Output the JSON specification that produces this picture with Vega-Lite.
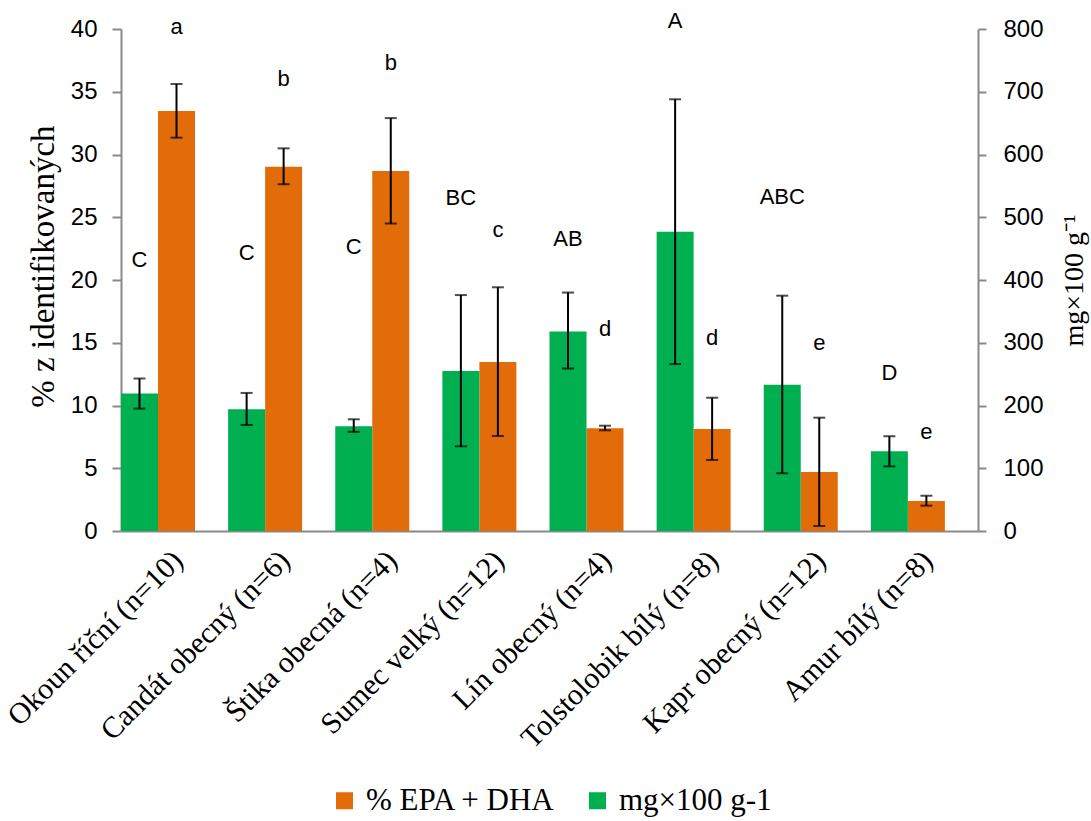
{
  "$schema": "https://vega.github.io/schema/vega-lite/v6.json",
  "width": 857,
  "height": 502,
  "autosize": {"type": "none"},
  "padding": {"left": 121, "top": 29, "right": 113, "bottom": 290},
  "config": {
    "view": {"stroke": null},
    "font": "Liberation Sans"
  },
  "data": {
    "values": [
      {"fish": "Okoun říční (n=10)", "series": "mg×100 g-1", "value": 219, "lo": 195, "hi": 243, "letter": "C", "ly": 432},
      {"fish": "Candát obecný (n=6)", "series": "mg×100 g-1", "value": 194, "lo": 169, "hi": 220, "letter": "C", "ly": 443},
      {"fish": "Štika obecná (n=4)", "series": "mg×100 g-1", "value": 167, "lo": 158, "hi": 178, "letter": "C", "ly": 453},
      {"fish": "Sumec velký (n=12)", "series": "mg×100 g-1", "value": 255, "lo": 135, "hi": 376, "letter": "BC", "ly": 530},
      {"fish": "Lín obecný (n=4)", "series": "mg×100 g-1", "value": 318, "lo": 259, "hi": 380, "letter": "AB", "ly": 466},
      {"fish": "Tolstolobik bílý (n=8)", "series": "mg×100 g-1", "value": 477, "lo": 266, "hi": 688, "letter": "A", "ly": 812},
      {"fish": "Kapr obecný (n=12)", "series": "mg×100 g-1", "value": 233, "lo": 92, "hi": 375, "letter": "ABC", "ly": 533},
      {"fish": "Amur bílý (n=8)", "series": "mg×100 g-1", "value": 127, "lo": 103, "hi": 151, "letter": "D", "ly": 252},
      {"fish": "Okoun říční (n=10)", "series": "% EPA + DHA", "value": 33.47, "lo": 31.34, "hi": 35.62, "letter": "a", "ly": 40.18},
      {"fish": "Candát obecný (n=6)", "series": "% EPA + DHA", "value": 29.03, "lo": 27.63, "hi": 30.49, "letter": "b", "ly": 36.0},
      {"fish": "Štika obecná (n=4)", "series": "% EPA + DHA", "value": 28.69, "lo": 24.5, "hi": 32.9, "letter": "b", "ly": 37.27},
      {"fish": "Sumec velký (n=12)", "series": "% EPA + DHA", "value": 13.47, "lo": 7.57, "hi": 19.42, "letter": "c", "ly": 23.98},
      {"fish": "Lín obecný (n=4)", "series": "% EPA + DHA", "value": 8.18, "lo": 8.02, "hi": 8.39, "letter": "d", "ly": 16.07},
      {"fish": "Tolstolobik bílý (n=8)", "series": "% EPA + DHA", "value": 8.13, "lo": 5.66, "hi": 10.62, "letter": "d", "ly": 15.36},
      {"fish": "Kapr obecný (n=12)", "series": "% EPA + DHA", "value": 4.70, "lo": 0.40, "hi": 9.03, "letter": "e", "ly": 14.96},
      {"fish": "Amur bílý (n=8)", "series": "% EPA + DHA", "value": 2.39, "lo": 2.02, "hi": 2.81, "letter": "e", "ly": 7.91}
    ]
  },
  "encoding": {
    "x": {
      "field": "fish", "type": "nominal", "sort": null,
      "scale": {"paddingInner": 0, "paddingOuter": 0},
      "axis": {
        "title": null, "labelAngle": -45, "labelAlign": "right", "labelLimit": 500,
        "labelFont": "Liberation Serif", "labelFontSize": 30, "labelColor": "black",
        "ticks": false, "labelPadding": 14, "labelOffset": -7,
        "domainColor": "#898989", "domainWidth": 2
      }
    },
    "xOffset": {
      "field": "series", "type": "nominal",
      "scale": {"domain": ["mg×100 g-1", "% EPA + DHA"], "range": [0, 74]}
    }
  },
  "layer": [
    {
      "transform": [{"filter": "datum.series === '% EPA + DHA'"}],
      "encoding": {
        "y": {
          "type": "quantitative",
          "scale": {"domain": [0, 40], "nice": false, "zero": true},
          "axis": {
            "orient": "left", "values": [0, 5, 10, 15, 20, 25, 30, 35, 40],
            "grid": false, "tickSize": 9, "tickColor": "#898989", "tickWidth": 2,
            "domainColor": "#898989", "domainWidth": 2,
            "labelFontSize": 24, "labelColor": "black", "labelPadding": 15,
            "title": "% z identifikovaných", "titleFont": "Liberation Serif",
            "titleFontSize": 33, "titleFontWeight": "normal", "titleColor": "black",
            "titleAngle": 270, "titleX": -78, "titleY": 237,
            "titleAlign": "center", "titleBaseline": "middle"
          }
        }
      },
      "layer": [
        {
          "mark": {"type": "bar"},
          "encoding": {
            "y": {"field": "value"},
            "color": {
              "field": "series", "type": "nominal",
              "scale": {"domain": ["% EPA + DHA", "mg×100 g-1"], "range": ["#E36C0A", "#00B050"]},
              "legend": {
                "orient": "none", "legendX": 208, "legendY": 756, "direction": "horizontal",
                "title": null, "symbolType": "square", "symbolSize": 289, "symbolStrokeWidth": 0,
                "labelFont": "Liberation Serif", "labelFontSize": 31, "labelColor": "black",
                "labelOffset": 6, "columnPadding": 26, "labelLimit": 400
              }
            }
          }
        },
        {
          "mark": {"type": "rule", "color": "black", "strokeWidth": 2},
          "encoding": {
            "y": {"field": "lo"},
            "y2": {"field": "hi"}
          }
        },
        {
          "mark": {"type": "tick", "color": "black", "thickness": 2, "size": 12},
          "encoding": {"y": {"field": "lo"}}
        },
        {
          "mark": {"type": "tick", "color": "black", "thickness": 2, "size": 12},
          "encoding": {"y": {"field": "hi"}}
        },
        {
          "mark": {"type": "text", "font": "Liberation Sans", "fontSize": 22, "color": "black", "baseline": "middle"},
          "encoding": {
            "y": {"field": "ly"},
            "text": {"field": "letter"}
          }
        }
      ]
    },
    {
      "transform": [{"filter": "datum.series === 'mg×100 g-1'"}],
      "encoding": {
        "y": {
          "type": "quantitative",
          "scale": {"domain": [0, 800], "nice": false, "zero": true},
          "axis": {
            "orient": "right", "values": [0, 100, 200, 300, 400, 500, 600, 700, 800],
            "grid": false, "tickSize": 8, "tickColor": "#898989", "tickWidth": 2,
            "domainColor": "#898989", "domainWidth": 2,
            "labelFontSize": 24, "labelColor": "black", "labelPadding": 17,
            "title": "mg×100 g⁻¹", "titleFont": "Liberation Serif",
            "titleFontSize": 28, "titleFontWeight": "normal", "titleColor": "black",
            "titleAngle": 270, "titleX": 96, "titleY": 251,
            "titleAlign": "center", "titleBaseline": "middle"
          }
        }
      },
      "layer": [
        {
          "mark": {"type": "bar"},
          "encoding": {
            "y": {"field": "value"},
            "color": {"field": "series", "type": "nominal"}
          }
        },
        {
          "mark": {"type": "rule", "color": "black", "strokeWidth": 2},
          "encoding": {
            "y": {"field": "lo"},
            "y2": {"field": "hi"}
          }
        },
        {
          "mark": {"type": "tick", "color": "black", "thickness": 2, "size": 12},
          "encoding": {"y": {"field": "lo"}}
        },
        {
          "mark": {"type": "tick", "color": "black", "thickness": 2, "size": 12},
          "encoding": {"y": {"field": "hi"}}
        },
        {
          "mark": {"type": "text", "font": "Liberation Sans", "fontSize": 22, "color": "black", "baseline": "middle"},
          "encoding": {
            "y": {"field": "ly"},
            "text": {"field": "letter"}
          }
        }
      ]
    }
  ],
  "resolve": {"scale": {"y": "independent"}}
}
